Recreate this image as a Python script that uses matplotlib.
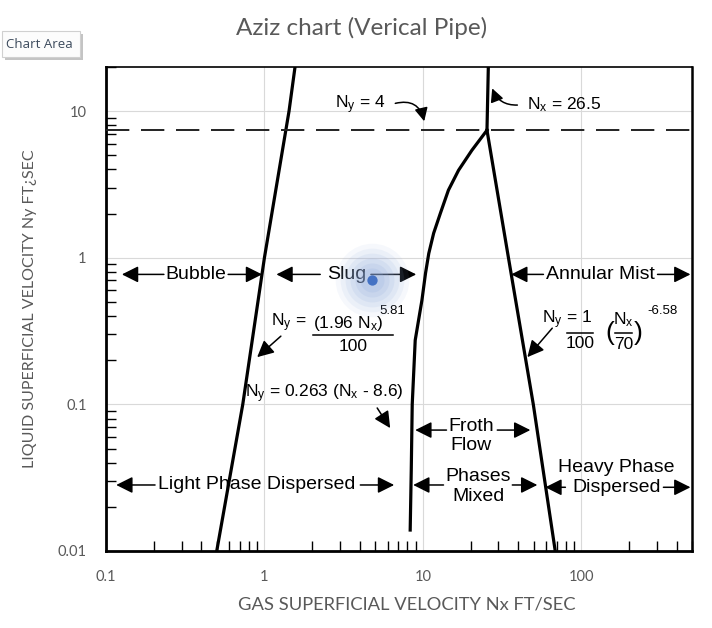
"""
Aziz flow-regime map for vertical pipe, with one operating point.
"""
import numpy as np
import matplotlib
matplotlib.use("Agg")
import matplotlib.pyplot as plt
from matplotlib.patches import Rectangle
from matplotlib.ticker import LogLocator, NullFormatter, FixedLocator, FixedFormatter

plt.rcParams.update({
    "font.family": ["Liberation Sans", "DejaVu Sans"],
    "mathtext.fontset": "custom",
    "mathtext.rm": "Liberation Sans",
    "mathtext.it": "Liberation Sans",
    "mathtext.default": "regular",
    "figure.dpi": 100,
    "savefig.dpi": 100,
})

# regime boundaries (Nx ft/s, Ny ft/s)
bubble_slug_nx = [0.5, 0.73, 1.0, 1.43, 1.56]
bubble_slug_ny = [0.01, 0.1, 1.0, 10.0, 20.0]

slug_froth_nx = [8.32, 8.45, 8.57, 8.95, 9.40, 9.87, 10.4, 10.9, 11.7, 12.9,
                 14.5, 16.8, 20.4, 25.4]
slug_froth_ny = [0.0139, 0.0356, 0.1, 0.274, 0.376, 0.514, 0.786, 1.07, 1.47, 2.01,
                 2.89, 3.95, 5.41, 7.41]

upper_nx = [25.4, 25.9]
upper_ny = [7.41, 20.0]

mist_nx = [25.4, 34.7, 49.8, 68.5]
mist_ny = [7.41, 1.0, 0.1, 0.01]

dashed_ny = 7.41

# operating point
point_nx = [4.8]
point_ny = [0.7]

x_ticks = [0.1, 1, 10, 100]
x_labels = ["0.1", "1", "10", "100"]
y_ticks = [0.01, 0.1, 1, 10]
y_labels = ["0.01", "0.1", "1", "10"]

XLIM = (0.1, 500)
YLIM = (0.01, 20)

W, H = 712, 628
fig = plt.figure(figsize=(W / 100, H / 100))
ax = fig.add_axes([106 / W, 1 - 551 / H, (692 - 106) / W, (551 - 67) / H])
ax.set_xscale("log")
ax.set_yscale("log")
ax.set_xlim(*XLIM)
ax.set_ylim(*YLIM)

# Excel-style grid and labels
ax.grid(which="major", color="#d9d9d9", lw=0.8, zorder=0)
ax.set_axisbelow(True)
for axis, ticks, labels in ((ax.xaxis, x_ticks, x_labels), (ax.yaxis, y_ticks, y_labels)):
    axis.set_major_locator(FixedLocator(ticks))
    axis.set_major_formatter(FixedFormatter(labels))
    axis.set_minor_locator(LogLocator(base=10, subs=np.arange(2, 10), numticks=30))
    axis.set_minor_formatter(NullFormatter())
ax.tick_params(which="major", length=0, labelcolor="#595959", labelsize=10.5,
               labelfontfamily="Lato", pad=14)
ax.tick_params(which="minor", direction="in", length=7, width=1.0, color="black")
ax.spines["left"].set_linewidth(2.0)
ax.spines["bottom"].set_linewidth(2.0)
ax.spines["top"].set_linewidth(1.2)
ax.spines["right"].set_linewidth(1.8)

# boundaries
lw_curve = 2.3
ax.plot(bubble_slug_nx, bubble_slug_ny, color="black", lw=lw_curve, zorder=3)
ax.plot(slug_froth_nx, slug_froth_ny, color="black", lw=lw_curve, zorder=3,
        solid_joinstyle="round")
ax.plot(upper_nx, upper_ny, color="black", lw=lw_curve, zorder=3)
ax.plot(mist_nx, mist_ny, color="black", lw=lw_curve, zorder=3)
ax.axhline(dashed_ny, color="#222222", lw=1.4, dashes=(12, 6), zorder=3)

arrow_kw = dict(arrowstyle="-|>,head_length=0.5,head_width=0.25", mutation_scale=20,
                color="black", lw=1.1, shrinkA=0, shrinkB=0)


def arrow(start, tip, rad=0.0, scale=20):
    kw = dict(arrow_kw, mutation_scale=scale)
    if rad:
        kw["connectionstyle"] = f"arc3,rad={rad}"
    ax.annotate("", xy=tip, xytext=start, arrowprops=kw, zorder=4)


def region(text, xc, yc, y_arrow, left, right, size=14):
    ax.text(xc, yc, text, ha="center", va="center", fontsize=size,
            linespacing=1.2, zorder=4)
    arrow((left[0], y_arrow), (left[1], y_arrow))
    arrow((right[0], y_arrow), (right[1], y_arrow))


region("Bubble", 0.371, 0.77, 0.77, (0.232, 0.126), (0.59, 0.967))
region("Slug", 3.30, 0.77, 0.77, (2.25, 1.19), (4.7, 9.08))
region("Annular Mist", 132, 0.77, 0.77, (57.7, 36.1), (303, 489))
region("Light Phase Dispersed", 0.90, 0.0282, 0.0282, (0.204, 0.116), (4.03, 6.59))
region("Froth\nFlow", 20.2, 0.0608, 0.0668, (14.1, 8.95), (29.5, 47.7))
region("Phases\nMixed", 22.4, 0.0275, 0.0282, (13.5, 8.69), (36.7, 52.8))
region("Heavy Phase\nDispersed", 167, 0.0316, 0.0272, (79.4, 59.3), (330, 489))

fs = 12.5
# Ny = (1.96 Nx)^5.81 / 100
ax.text(1.10, 0.358, "N$_y$ =", fontsize=fs, va="center", zorder=4)
ax.text(2.03, 0.358, "(1.96 N$_x$)", fontsize=fs, va="center", zorder=4)
ax.text(5.3, 0.43, "5.81", fontsize=9.5, va="center", zorder=4)
ax.plot([2.03, 6.5], [0.296, 0.296], color="black", lw=1.1, zorder=4)
ax.text(3.63, 0.249, "100", fontsize=fs, ha="center", va="center", zorder=4)
arrow((1.27, 0.292), (0.90, 0.210))

# Ny = 0.263 (Nx - 8.6)
ax.text(0.755, 0.1175, "N$_y$ = 0.263 (N$_x$ - 8.6)", fontsize=fs, va="center", zorder=4)
arrow((5.15, 0.0945), (6.22, 0.0689))

# Ny = 1/100 (Nx/70)^-6.58
ax.text(56.7, 0.376, "N$_y$ = 1", fontsize=fs, va="center", zorder=4)
ax.plot([81.7, 119.4], [0.306, 0.306], color="black", lw=1.1, zorder=4)
ax.text(98.6, 0.262, "100", fontsize=fs, ha="center", va="center", zorder=4)
ax.text(152, 0.306, "(", fontsize=19, ha="center", va="center", zorder=4)
ax.text(228, 0.306, ")", fontsize=19, ha="center", va="center", zorder=4)
ax.text(185, 0.376, "N$_x$", fontsize=fs, ha="center", va="center", zorder=4)
ax.plot([164, 210], [0.306, 0.306], color="black", lw=1.1, zorder=4)
ax.text(185, 0.258, "70", fontsize=fs, ha="center", va="center", zorder=4)
ax.text(262, 0.43, "-6.58", fontsize=9.5, va="center", zorder=4)
arrow((65.6, 0.331), (45.7, 0.210))

# Ny = 4 and Nx = 26.5 call-outs
ax.text(2.80, 11.1, "N$_y$ = 4", fontsize=fs, va="center", zorder=4)
arrow((6.70, 11.3), (10.2, 8.53), rad=-0.5, scale=16)
ax.text(45.7, 11.1, "N$_x$ = 26.5", fontsize=fs, va="center", zorder=4)
arrow((39.5, 11.0), (27.4, 14.3), rad=-0.35, scale=16)

# operating point with soft glow
for s, a in zip([2800, 2100, 1500, 1000, 600, 300], [0.08, 0.10, 0.12, 0.14, 0.16, 0.18]):
    ax.scatter(point_nx, point_ny, s=s, color="#8faadc", alpha=a, lw=0, zorder=5)
ax.scatter(point_nx, point_ny, s=55, color="#4472c4", lw=0, zorder=6)

# Excel titles
fig.text(362 / W, 1 - 28 / H, "Aziz chart (Verical Pipe)", ha="center", va="center",
         fontsize=17.5, color="#595959", family="Lato")
fig.text(407 / W, 1 - 604 / H, "GAS SUPERFICIAL VELOCITY Nx FT/SEC", ha="center",
         va="center", fontsize=13.2, color="#595959", family="Lato")
fig.text(30 / W, 1 - 309 / H, "LIQUID SUPERFICIAL VELOCITY Ny FT\u00bfSEC", ha="center",
         va="center", rotation=90, fontsize=11.5, color="#595959", family="Lato")

# "Chart Area" hover tip with a small shadow
fig.patches.append(Rectangle((5 / W, 1 - 60 / H), 78 / W, 26 / H, transform=fig.transFigure,
                             fc="#c4c4c4", ec="none", zorder=1))
fig.patches.append(Rectangle((2 / W, 1 - 57 / H), 78 / W, 26 / H, transform=fig.transFigure,
                             fc="#fcfcfc", ec="#d0d0d0", lw=0.8, zorder=2))
fig.text(6 / W, 1 - 44 / H, "Chart Area", ha="left", va="center", fontsize=9.5,
         family="Open Sans", color="#3c4a5c", zorder=3)

fig.savefig("out.png", dpi=100)
